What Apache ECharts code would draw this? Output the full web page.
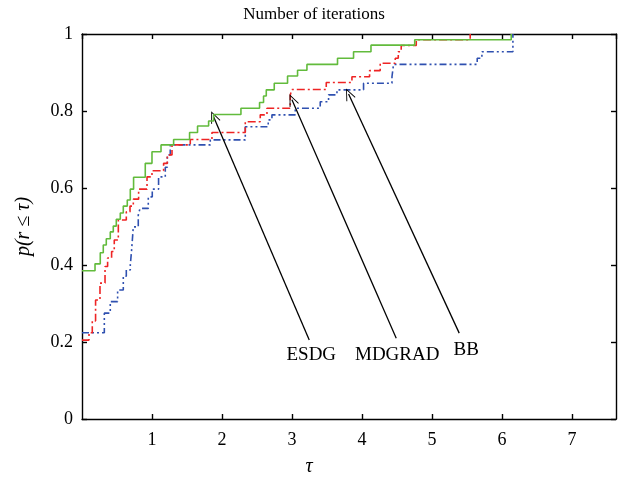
<!DOCTYPE html>
<html>
<head>
<meta charset="utf-8">
<script src="https://cdn.jsdelivr.net/npm/echarts@6/dist/echarts.min.js"></script>
<style>html,body{margin:0;padding:0;background:#fff}#c{width:626px;height:483px}</style>
</head>
<body>
<div id="c"></div>
<script>
// ---- data ----
const esdgTau = [0, 0.186, 0.261, 0.304, 0.347, 0.404, 0.447, 0.490, 0.547, 0.590, 0.647, 0.690, 0.737, 0.904, 1.0, 1.129, 1.309, 1.537, 1.651, 1.809, 1.88, 2.271, 2.537, 2.594, 2.633, 2.747, 2.937, 3.08, 3.214, 3.651, 3.88, 4.129, 4.754, 6.133];
const esdgP   = [0.385, 0.403, 0.432, 0.452, 0.468, 0.486, 0.501, 0.519, 0.535, 0.553, 0.569, 0.597, 0.628, 0.664, 0.694, 0.712, 0.726, 0.744, 0.761, 0.774, 0.791, 0.807, 0.822, 0.839, 0.855, 0.872, 0.891, 0.906, 0.921, 0.937, 0.954, 0.971, 0.985, 1.0];

const mdgradTau = [0, 0.1, 0.147, 0.194, 0.257, 0.329, 0.366, 0.423, 0.461, 0.519, 0.633, 0.686, 0.733, 0.809, 0.929, 1.0, 1.166, 1.219, 1.286, 1.547, 1.857, 2.333, 2.547, 2.643, 2.976, 3.0, 3.49, 3.857, 4.109, 4.261, 4.476, 4.519, 4.561, 4.776, 5.547];
const mdgradP   = [0.205, 0.224, 0.255, 0.309, 0.353, 0.396, 0.418, 0.435, 0.465, 0.517, 0.538, 0.553, 0.571, 0.597, 0.629, 0.645, 0.664, 0.686, 0.712, 0.726, 0.744, 0.772, 0.79, 0.807, 0.842, 0.856, 0.874, 0.889, 0.905, 0.924, 0.937, 0.954, 0.97, 0.985, 1.0];

const bbTau = [0, 0.319, 0.404, 0.509, 0.59, 0.633, 0.69, 0.709, 0.733, 0.804, 0.829, 0.947, 1.004, 1.094, 1.19, 1.219, 1.261, 1.833, 2.333, 2.661, 2.714, 3.047, 3.404, 3.523, 3.643, 4.023, 4.429, 4.451, 5.647, 5.714, 6.157];
const bbP   = [0.224, 0.275, 0.305, 0.335, 0.371, 0.387, 0.4, 0.439, 0.499, 0.53, 0.547, 0.577, 0.597, 0.629, 0.654, 0.686, 0.712, 0.725, 0.759, 0.777, 0.79, 0.807, 0.824, 0.842, 0.855, 0.872, 0.889, 0.921, 0.937, 0.954, 1.0];

const xTicks = [1, 2, 3, 4, 5, 6, 7];
const yTicks = [0, 0.2, 0.4, 0.6, 0.8, 1];

// annotations: label position, arrow start, arrow tip (data coords)
const annNames  = ['ESDG', 'MDGRAD', 'BB'];
const annLabel  = [[3.276, 0.166], [4.504, 0.166], [5.49, 0.179]];
const annStart  = [[3.247, 0.205], [4.49, 0.21], [5.39, 0.223]];
const annTip    = [[1.88, 0.785], [3.0, 0.829], [3.809, 0.844]];

const titleText = 'Number of iterations';
const xName = 'τ';
const yName = 'p(r ≤ τ)';

// ---- chart ----
const FONT = 'Liberation Serif';
const pairs = (xs, ys) => xs.map((x, i) => [x, ys[i]]);
const chevron = 'path://M0,0 L-5,11 L-4.2,11.4 L0,2 L4.2,11.4 L5,11 Z';

const baseAxis = {
  type: 'value', min: 0, interval: 1,
  axisLine: { show: true, onZero: false, lineStyle: { color: '#000', width: 1.4 } },
  axisTick: { show: true, inside: true, length: 5, lineStyle: { color: '#000', width: 1.4 } },
  splitLine: { show: false }
};

const chart = echarts.init(document.getElementById('c'), null, { renderer: 'canvas' });
chart.setOption({
  animation: false,
  backgroundColor: '#fff',
  textStyle: { fontFamily: FONT },
  title: {
    text: titleText, left: 309, top: 1, textAlign: 'center',
    textStyle: { fontFamily: FONT, fontSize: 17, fontWeight: 'normal', color: '#000' }
  },
  grid: { left: 82, right: 10, top: 34, bottom: 64, containLabel: false },
  xAxis: [
    Object.assign({}, baseAxis, {
      position: 'bottom', max: 7.63,
      axisLabel: { show: true, color: '#000', fontSize: 18, fontFamily: FONT, margin: 12,
        showMinLabel: false, showMaxLabel: false,
        formatter: v => (xTicks.indexOf(v) >= 0 ? String(v) : '') },
      name: xName, nameLocation: 'middle', nameGap: 38,
      nameTextStyle: { fontFamily: FONT, fontStyle: 'italic', fontSize: 20, color: '#000', padding: [0, 80, 0, 0] }
    }),
    Object.assign({}, baseAxis, {
      position: 'top', max: 7.63, axisLabel: { show: false }
    })
  ],
  yAxis: [
    Object.assign({}, baseAxis, {
      position: 'left', max: 1, interval: 0.2,
      axisLabel: { show: true, color: '#000', fontSize: 18, fontFamily: FONT, margin: 9,
        formatter: v => { const t = yTicks.find(k => Math.abs(k - v) < 1e-9); return t === undefined ? '' : String(t); } },
      name: yName, nameLocation: 'middle', nameGap: 48, nameRotate: 90,
      nameTextStyle: { fontFamily: FONT, fontStyle: 'italic', fontSize: 20, color: '#000' }
    }),
    Object.assign({}, baseAxis, {
      position: 'right', max: 1, interval: 0.2, axisLabel: { show: false }
    })
  ],
  series: [
    {
      name: 'BB', type: 'line', step: 'end', showSymbol: false, z: 3,
      data: pairs(bbTau, bbP),
      lineStyle: { color: '#2f50b0', width: 1.6, type: [7, 3, 2, 3, 2, 3] }
    },
    {
      name: 'MDGRAD', type: 'line', step: 'end', showSymbol: false, z: 4,
      data: pairs(mdgradTau, mdgradP),
      lineStyle: { color: '#ee2424', width: 1.6, type: [8, 3, 2, 3] }
    },
    {
      name: 'ESDG', type: 'line', step: 'end', showSymbol: false, z: 5,
      data: pairs(esdgTau, esdgP),
      lineStyle: { color: '#62bb3c', width: 1.6, type: 'solid' }
    },
    {
      name: 'annotations', type: 'scatter', symbolSize: 1, z: 6,
      itemStyle: { color: '#fff', opacity: 0 },
      data: annLabel.map((p, i) => ({ value: p, name: annNames[i] })),
      label: { show: true, position: 'inside', formatter: p => p.name, color: '#000', opacity: 1,
        textBorderWidth: 0, fontSize: 19, fontFamily: FONT },
      markLine: {
        silent: true, animation: false,
        symbol: ['none', chevron], symbolSize: [10, 12],
        lineStyle: { color: '#000', width: 1.3, type: 'solid' },
        label: { show: false },
        data: annStart.map((s, i) => [{ coord: s }, { coord: annTip[i] }])
      }
    }
  ]
});
</script>
</body>
</html>
